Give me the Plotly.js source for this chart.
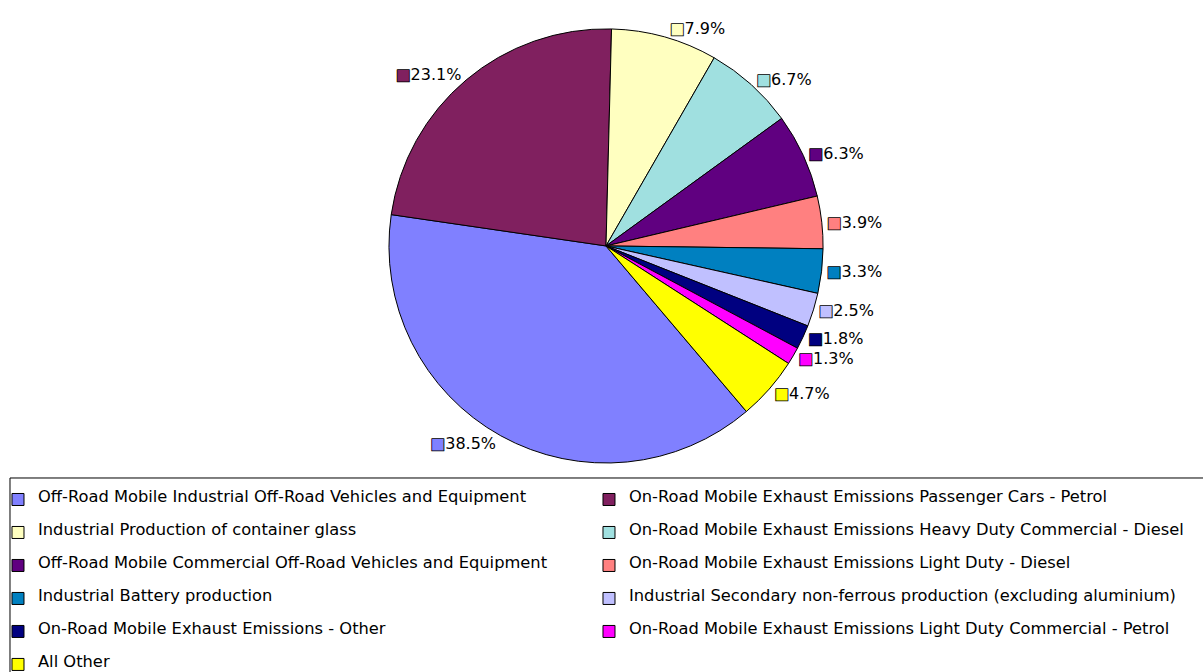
<!DOCTYPE html>
<html>
<head>
<meta charset="utf-8">
<script src="https://cdn.plot.ly/plotly-3.0.1.min.js"></script>
<style>html,body{margin:0;padding:0;background:#fff;}#chart{width:1203px;height:672px;}</style>
</head>
<body>
<div id="chart"></div>
<script>
const categories = [
  "Off-Road Mobile Industrial Off-Road Vehicles and Equipment",
  "On-Road Mobile Exhaust Emissions Passenger Cars - Petrol",
  "Industrial Production of container glass",
  "On-Road Mobile Exhaust Emissions Heavy Duty Commercial - Diesel",
  "Off-Road Mobile Commercial Off-Road Vehicles and Equipment",
  "On-Road Mobile Exhaust Emissions Light Duty - Diesel",
  "Industrial Battery production",
  "Industrial Secondary non-ferrous production (excluding aluminium)",
  "On-Road Mobile Exhaust Emissions - Other",
  "On-Road Mobile Exhaust Emissions Light Duty Commercial - Petrol",
  "All Other"
];
const shares = [38.5, 23.1, 7.9, 6.7, 6.3, 3.9, 3.3, 2.5, 1.8, 1.3, 4.7];
const colors = ["#8080FF", "#80205F", "#FFFFC0", "#A0E0E0", "#600080", "#FF8080",
                "#0080C0", "#C0C0FF", "#000080", "#FF00FF", "#FFFF00"];

const pctLabels = shares.map((v, i) =>
  '<span style="color:' + colors[i] + ';stroke:#000;stroke-width:0.8px">■</span>' + v.toFixed(1) + '%');
const legendNames = categories.map(c =>
  '\u00a0<br><span style="font-size:16.3px">' + c + '</span><br>\u00a0');

const trace = {
  type: 'pie',
  labels: legendNames,
  values: shares,
  text: pctLabels,
  textinfo: 'text',
  textposition: 'outside',
  sort: false,
  direction: 'clockwise',
  rotation: 139.7,
  marker: { colors: colors, line: { color: '#000000', width: 1 } },
  textfont: { family: 'DejaVu Sans', size: 16, color: '#000000' },
  outsidetextfont: { family: 'DejaVu Sans', size: 16, color: '#000000' },
  hoverinfo: 'none',
  domain: { x: [0.2544, 0.7531], y: [0.311, 0.957] }
};

const layout = {
  width: 1203, height: 672,
  margin: { l: 0, r: 0, t: 0, b: 0, autoexpand: false },
  paper_bgcolor: '#ffffff',
  plot_bgcolor: '#ffffff',
  font: { family: 'DejaVu Sans', color: '#000000' },
  showlegend: true,
  legend: {
    orientation: 'h',
    x: 0.0083, xanchor: 'left',
    y: 0.2887, yanchor: 'top',
    font: { family: 'DejaVu Sans', size: 7.69, color: '#000000' },
    entrywidth: 558, entrywidthmode: 'pixels',
    indentation: -12,
    borderwidth: 0,
    bgcolor: 'rgba(0,0,0,0)',
    traceorder: 'normal'
  },
  shapes: [{
    type: 'rect', xref: 'paper', yref: 'paper',
    x0: 0.0083, x1: 1.02, y0: -0.05, y1: 0.2887,
    line: { color: '#000000', width: 1 },
    fillcolor: 'rgba(0,0,0,0)'
  }]
};

Plotly.newPlot('chart', [trace], layout, { displayModeBar: false, staticPlot: true });
</script>
</body>
</html>
